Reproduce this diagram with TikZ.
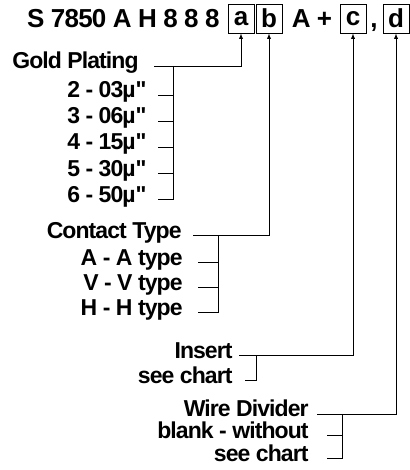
\documentclass[tikz,border=0pt]{standalone}
\usepackage{fontspec}
\setmainfont{Liberation Sans}
\usetikzlibrary{positioning}
\begin{document}
\begin{tikzpicture}[x=1pt, y=-1pt, line width=0.9pt, >=latex,
    code/.style={font=\fontsize{26}{26}\selectfont\bfseries\addfontfeatures{LetterSpace=-3}, inner sep=0pt},
    letter/.style={code, draw, minimum width=26pt, minimum height=29pt},
    lbl/.style={font=\fontsize{23}{23}\selectfont\bfseries\addfontfeatures{LetterSpace=-4}, inner sep=0pt, anchor=base east}]
    \useasboundingbox (0,0) rectangle (409,470);
    % part number
    \node [code, anchor=base east] (num) at (220,28) {S 7850 A H 8 8 8};
    \node [letter] (a) at (241,18.5) {a};
    \node [letter] (b) at (269,18.5) {b};
    \node [code, anchor=base] (aplus) at (312,28) {A +};
    \node [letter] (c) at (353,18.5) {c};
    \node [code, anchor=base] (comma) at (374,28) {,};
    \node [letter] (d) at (396,18.5) {d};
    % gold plating
    \node [lbl] (gold) at (139,69) {Gold Plating};
    \node [lbl] (g2) at (147,98) {2 - 03µ\textquotedbl};
    \node [lbl] (g3) at (147,124) {3 - 06µ\textquotedbl};
    \node [lbl] (g4) at (147,150) {4 - 15µ\textquotedbl};
    \node [lbl] (g5) at (147,176) {5 - 30µ\textquotedbl};
    \node [lbl] (g6) at (147,202) {6 - 50µ\textquotedbl};
    \draw [->] ([shift={(15,-3)}]gold.base east) -| (a.south);
    \coordinate (gbar) at (173,66);
    \draw (gbar) |- ([shift={(11,-3)}]g6.base east);
    \foreach \n in {g2,g3,g4,g5}
      \draw ([shift={(11,-3)}]\n.base east) -- +(15,0);
    % contact type
    \node [lbl] (contact) at (182,238) {Contact Type};
    \node [lbl] (ta) at (183,265) {A - A type};
    \node [lbl] (tv) at (183,290) {V - V type};
    \node [lbl] (th) at (183,315) {H - H type};
    \draw [->] ([shift={(11,-3)}]contact.base east) -| (b.south);
    \coordinate (tbar) at (218,235);
    \draw (tbar) |- ([shift={(15,-3)}]th.base east);
    \foreach \n in {ta,tv}
      \draw ([shift={(15,-3)}]\n.base east) -- +(20,0);
    % insert
    \node [lbl] (insert) at (233,358) {Insert};
    \node [lbl] (ichart) at (233,383) {see chart};
    \draw [->] ([shift={(6,-3)}]insert.base east) -| (c.south);
    \coordinate (ibar) at (256,355);
    \draw (ibar) |- ([shift={(12,-3)}]ichart.base east);
    % wire divider
    \node [lbl] (wire) at (309,416) {Wire Divider};
    \node [lbl] (wblank) at (309,438) {blank - without};
    \node [lbl] (wchart) at (309,461) {see chart};
    \draw [->] ([shift={(8,-2)}]wire.base east) -| (d.south);
    \coordinate (wbar) at (342,414);
    \draw (wbar) |- ([shift={(18,-3)}]wchart.base east);
    \draw ([shift={(18,-3)}]wblank.base east) -- +(15,0);
\end{tikzpicture}
\end{document}
